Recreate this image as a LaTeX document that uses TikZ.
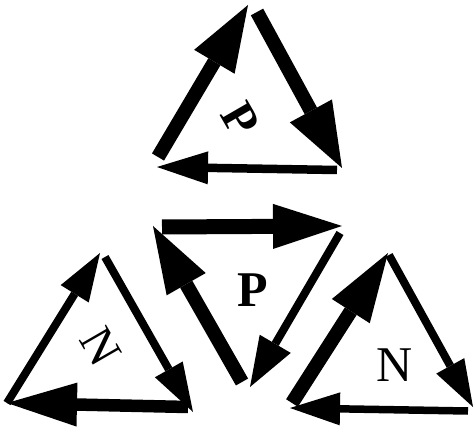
\documentclass[tikz,border=0pt]{standalone}
\usepackage{fontspec}
\setmainfont{Liberation Serif}
\usetikzlibrary{arrows.meta}
\tikzset{
  arr/.style n args={3}{line width=#1pt, line cap=butt,
    -{Triangle[length=#2pt,width=#3pt,line width=0pt]}},
  lbl/.style={inner sep=0pt}
}
\begin{document}
\begin{tikzpicture}[x=1pt,y=-1pt]
\useasboundingbox (0,0) rectangle (474,430);
% top triangle
\coordinate (a1s) at (158,157); \coordinate (a1t) at (248,5);
\coordinate (a2s) at (257,12);  \coordinate (a2t) at (342,168);
\coordinate (a3s) at (337,170); \coordinate (a3t) at (157,167);
\draw[arr={14}{66}{47}] (a1s) -- (a1t);
\draw[arr={14}{65}{48}] (a2s) -- (a2t);
\draw[arr={8.5}{51}{33}] (a3s) -- (a3t);
\node[lbl, font=\fontsize{48}{48}\selectfont\bfseries, rotate=-60] (ptop) at (240,119) {P};
% middle triangle
\coordinate (b1s) at (162,227); \coordinate (b1t) at (342,226);
\coordinate (b2s) at (340,233); \coordinate (b2t) at (250,387);
\coordinate (b3s) at (242,382); \coordinate (b3t) at (153,226);
\draw[arr={15}{69}{45}] (b1s) -- (b1t);
\draw[arr={8}{50}{36}] (b2s) -- (b2t);
\draw[arr={14}{67}{45}] (b3s) -- (b3t);
\node[lbl, font=\fontsize{50}{50}\selectfont\bfseries] (pmid) at (252.5,290.5) {P};
% bottom-left triangle
\coordinate (c1s) at (7,403);   \coordinate (c1t) at (100,253);
\coordinate (c2s) at (105,257); \coordinate (c2t) at (193,412);
\coordinate (c3s) at (188,407); \coordinate (c3t) at (7,403);
\draw[arr={8}{48}{33}] (c1s) -- (c1t);
\draw[arr={8}{49}{32}] (c2s) -- (c2t);
\draw[arr={12.5}{70}{44}] (c3s) -- (c3t);
\node[lbl, font=\fontsize{48}{48}\selectfont, rotate=-60] (nleft) at (100.5,347) {N};
% bottom-right triangle
\coordinate (d1s) at (292,403); \coordinate (d1t) at (388,253);
\coordinate (d2s) at (389,255); \coordinate (d2t) at (473,407);
\coordinate (d3s) at (468,411); \coordinate (d3t) at (290,408);
\draw[arr={14}{69}{45}] (d1s) -- (d1t);
\draw[arr={8}{47}{32}] (d2s) -- (d2t);
\draw[arr={7.5}{50}{33}] (d3s) -- (d3t);
\node[lbl, font=\fontsize{50}{50}\selectfont] (nright) at (394.5,365.5) {N};
\end{tikzpicture}
\end{document}
